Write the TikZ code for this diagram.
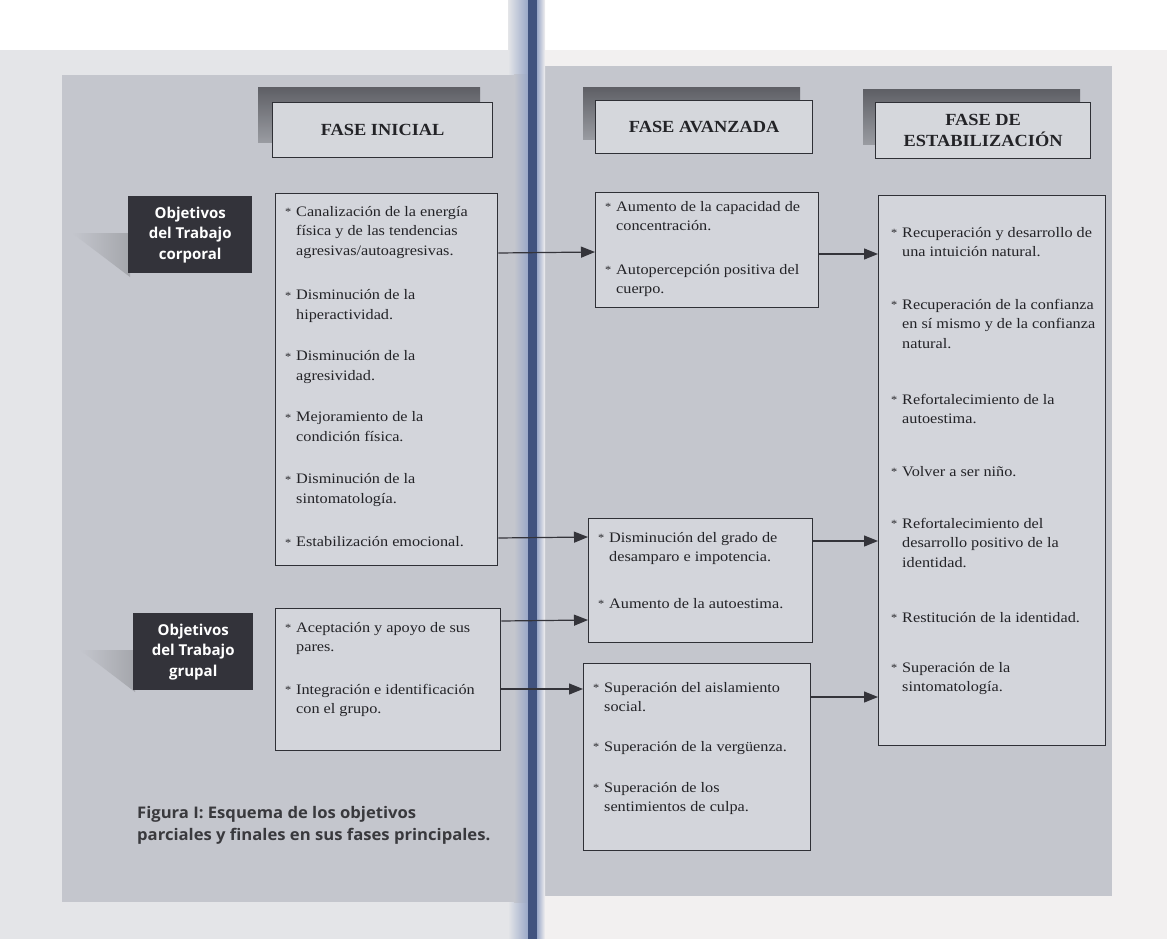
\documentclass[tikz,border=0pt]{standalone}
\usepackage{fontspec}
\setmainfont{Liberation Serif}
\newfontfamily\bodyf[FakeStretch=1.12]{Liberation Serif}
\newfontfamily\headf[FakeStretch=1.08]{Liberation Serif}
\newfontfamily\labf{Open Sans}
\newfontfamily\capf[FakeStretch=1.04]{Open Sans}
\usetikzlibrary{arrows.meta}
\definecolor{pagel}{HTML}{E4E5E8}
\definecolor{pager}{HTML}{F2F0F0}
\definecolor{panel}{HTML}{C4C6CD}
\definecolor{boxfill}{HTML}{D3D5DB}
\definecolor{boxline}{HTML}{2F3036}
\definecolor{labfill}{HTML}{33333A}
\definecolor{hdrfill}{HTML}{D5D7DC}
\definecolor{shadowtop}{HTML}{5F6066}
\definecolor{shadowbot}{HTML}{9A9CA2}
\definecolor{spinec}{HTML}{41537F}
\definecolor{spinelt}{HTML}{9AA8C8}
\definecolor{txtc}{HTML}{232327}
\definecolor{arrowc}{HTML}{34343A}
\newcommand\itm{\makebox[11pt][l]{\raisebox{0.5pt}{\fontsize{11}{11}\selectfont*}}}
\newcommand\cnt{\hspace*{11pt}}
\newcommand\lst[2]{\parbox[t]{#1}{\raggedright\bodyf\fontsize{14.5}{19.5}\selectfont #2}}
\begin{document}
\begin{tikzpicture}[x=1pt,y=-1pt,
  boxstyle/.style={draw=boxline, line width=1.3pt, fill=boxfill, anchor=north west, inner sep=0pt},
  hdr/.style={draw=boxline, line width=1.3pt, fill=hdrfill, anchor=north west, inner sep=0pt,
     align=center, text=txtc, font=\headf\bfseries\fontsize{17}{21}\selectfont},
  hshadow/.style={top color=shadowtop, bottom color=shadowbot},
  lab/.style={fill=labfill, anchor=north west, inner sep=0pt, align=center, text=white,
     font=\labf\bfseries\fontsize{15}{20.5}\selectfont},
  wedge/.style={left color=panel, right color=shadowbot!90!white},
  txt/.style={anchor=base west, inner sep=0pt, text=txtc},
  conn/.style={draw=arrowc, line width=1.2pt, -{Triangle[length=14pt,width=11pt]}},
  captext/.style={anchor=base west, inner sep=0pt, text=txtc!90!white,
     font=\capf\bfseries\fontsize{16}{22}\selectfont}]
\useasboundingbox (0,0) rectangle (1167,939);
% pages
\fill[pagel] (0,0) rectangle (530,939);
\fill[pager] (530,0) rectangle (1167,939);
\fill[white] (0,0) rectangle (1167,50);
\fill[panel] (62,75) rectangle (522,902);
\fill[panel] (540,66) rectangle (1112,896);
% spine
\shade[left color=pagel, right color=spinelt] (508,0) rectangle (528,939);
\fill[panel] (508,75) rectangle (514,902);
\shade[left color=panel, right color=spinelt] (514,75) rectangle (528,902);
\fill[spinec] (528,0) rectangle (537,939);
\shade[left color=spinelt, right color=pager] (537,0) rectangle (545,939);
% header shadows
\fill[hshadow] (258,88) rectangle (480,143);
\fill[hshadow] (583,88) rectangle (800,140);
\fill[hshadow] (863,90) rectangle (1080,145);
% headers
\node[hdr, minimum width=220, minimum height=55] (hini) at (272,102) {FASE INICIAL};
\node[hdr, minimum width=217, minimum height=53] (hava) at (595,100) {FASE AVANZADA};
\node[hdr, minimum width=215, minimum height=56] (hest) at (875,102) {FASE DE\\ESTABILIZACIÓN};
% label wedges
\shade[wedge] (72,233) -- (130,233) -- (130,277) -- cycle;
\shade[wedge] (80,650) -- (135,650) -- (135,692) -- cycle;
% labels
\node[lab, minimum width=124, minimum height=77] (lcorp) at (128,196) {Objetivos\\del Trabajo\\corporal};
\node[lab, minimum width=120, minimum height=77] (lgrup) at (133,613) {Objetivos\\del Trabajo\\grupal};
% boxes
\node[boxstyle, minimum width=222, minimum height=372] (ini1) at (275,193) {};
\node[boxstyle, minimum width=225, minimum height=142] (ini2) at (275,608) {};
\node[boxstyle, minimum width=223, minimum height=115] (av1) at (595,192) {};
\node[boxstyle, minimum width=224, minimum height=124] (av2) at (588,518) {};
\node[boxstyle, minimum width=227, minimum height=187] (av3) at (583,663) {};
\node[boxstyle, minimum width=227, minimum height=550] (est) at (878,195) {};
% texts
\node[txt] (t1) at (285,216) {\lst{210pt}{%
\itm Canalización de la energía\\
\cnt física y de las tendencias\\
\cnt agresivas/autoagresivas.\\[25pt]
\itm Disminución de la\\
\cnt hiperactividad.\\[22pt]
\itm Disminución de la\\
\cnt agresividad.\\[22pt]
\itm Mejoramiento de la\\
\cnt condición física.\\[23pt]
\itm Disminución de la\\
\cnt sintomatología.\\[24pt]
\itm Estabilización emocional.}};
\node[txt] (t2) at (285,632) {\lst{215pt}{%
\itm Aceptación y apoyo de sus\\
\cnt pares.\\[23pt]
\itm Integración e identificación\\
\cnt con el grupo.}};
\node[txt] (t3) at (605,211) {\lst{215pt}{%
\itm Aumento de la capacidad de\\
\cnt concentración.\\[24pt]
\itm Autopercepción positiva del\\
\cnt cuerpo.}};
\node[txt] (t4) at (598,542) {\lst{215pt}{%
\itm Disminución del grado de\\
\cnt desamparo e impotencia.\\[27pt]
\itm Aumento de la autoestima.}};
\node[txt] (t5) at (593,692) {\lst{220pt}{%
\itm Superación del aislamiento\\
\cnt social.\\[20pt]
\itm Superación de la vergüenza.\\[21.5pt]
\itm Superación de los\\
\cnt sentimientos de culpa.}};
\node[txt] (t6) at (891,237) {\lst{215pt}{%
\itm Recuperación y desarrollo de\\
\cnt una intuición natural.\\[33pt]
\itm Recuperación de la confianza\\
\cnt en sí mismo y de la confianza\\
\cnt natural.\\[36.5pt]
\itm Refortalecimiento de la\\
\cnt autoestima.\\[33pt]
\itm Volver a ser niño.\\[32.5pt]
\itm Refortalecimiento del\\
\cnt desarrollo positivo de la\\
\cnt identidad.\\[35.5pt]
\itm Restitución de la identidad.\\[30.5pt]
\itm Superación de la\\
\cnt sintomatología.}};
% caption
\node[captext] (capt) at (137,818) {\parbox[t]{420pt}{Figura I: Esquema de los objetivos\\parciales y finales en sus fases principales.}};
% connectors
\draw[conn] (ini1.east |- 0,253) -- (av1.west |- 0,252);
\draw[conn] (av1.east |- 0,254) -- (est.west |- 0,254);
\draw[conn] (ini1.east |- 0,538) -- (av2.west |- 0,537);
\draw[conn] (ini2.east |- 0,621) -- (av2.west |- 0,620);
\draw[conn] (ini2.east |- 0,689) -- (av3.west |- 0,689);
\draw[conn] (av2.east |- 0,541) -- (est.west |- 0,541);
\draw[conn] (av3.east |- 0,697) -- (est.west |- 0,697);
\end{tikzpicture}
\end{document}
